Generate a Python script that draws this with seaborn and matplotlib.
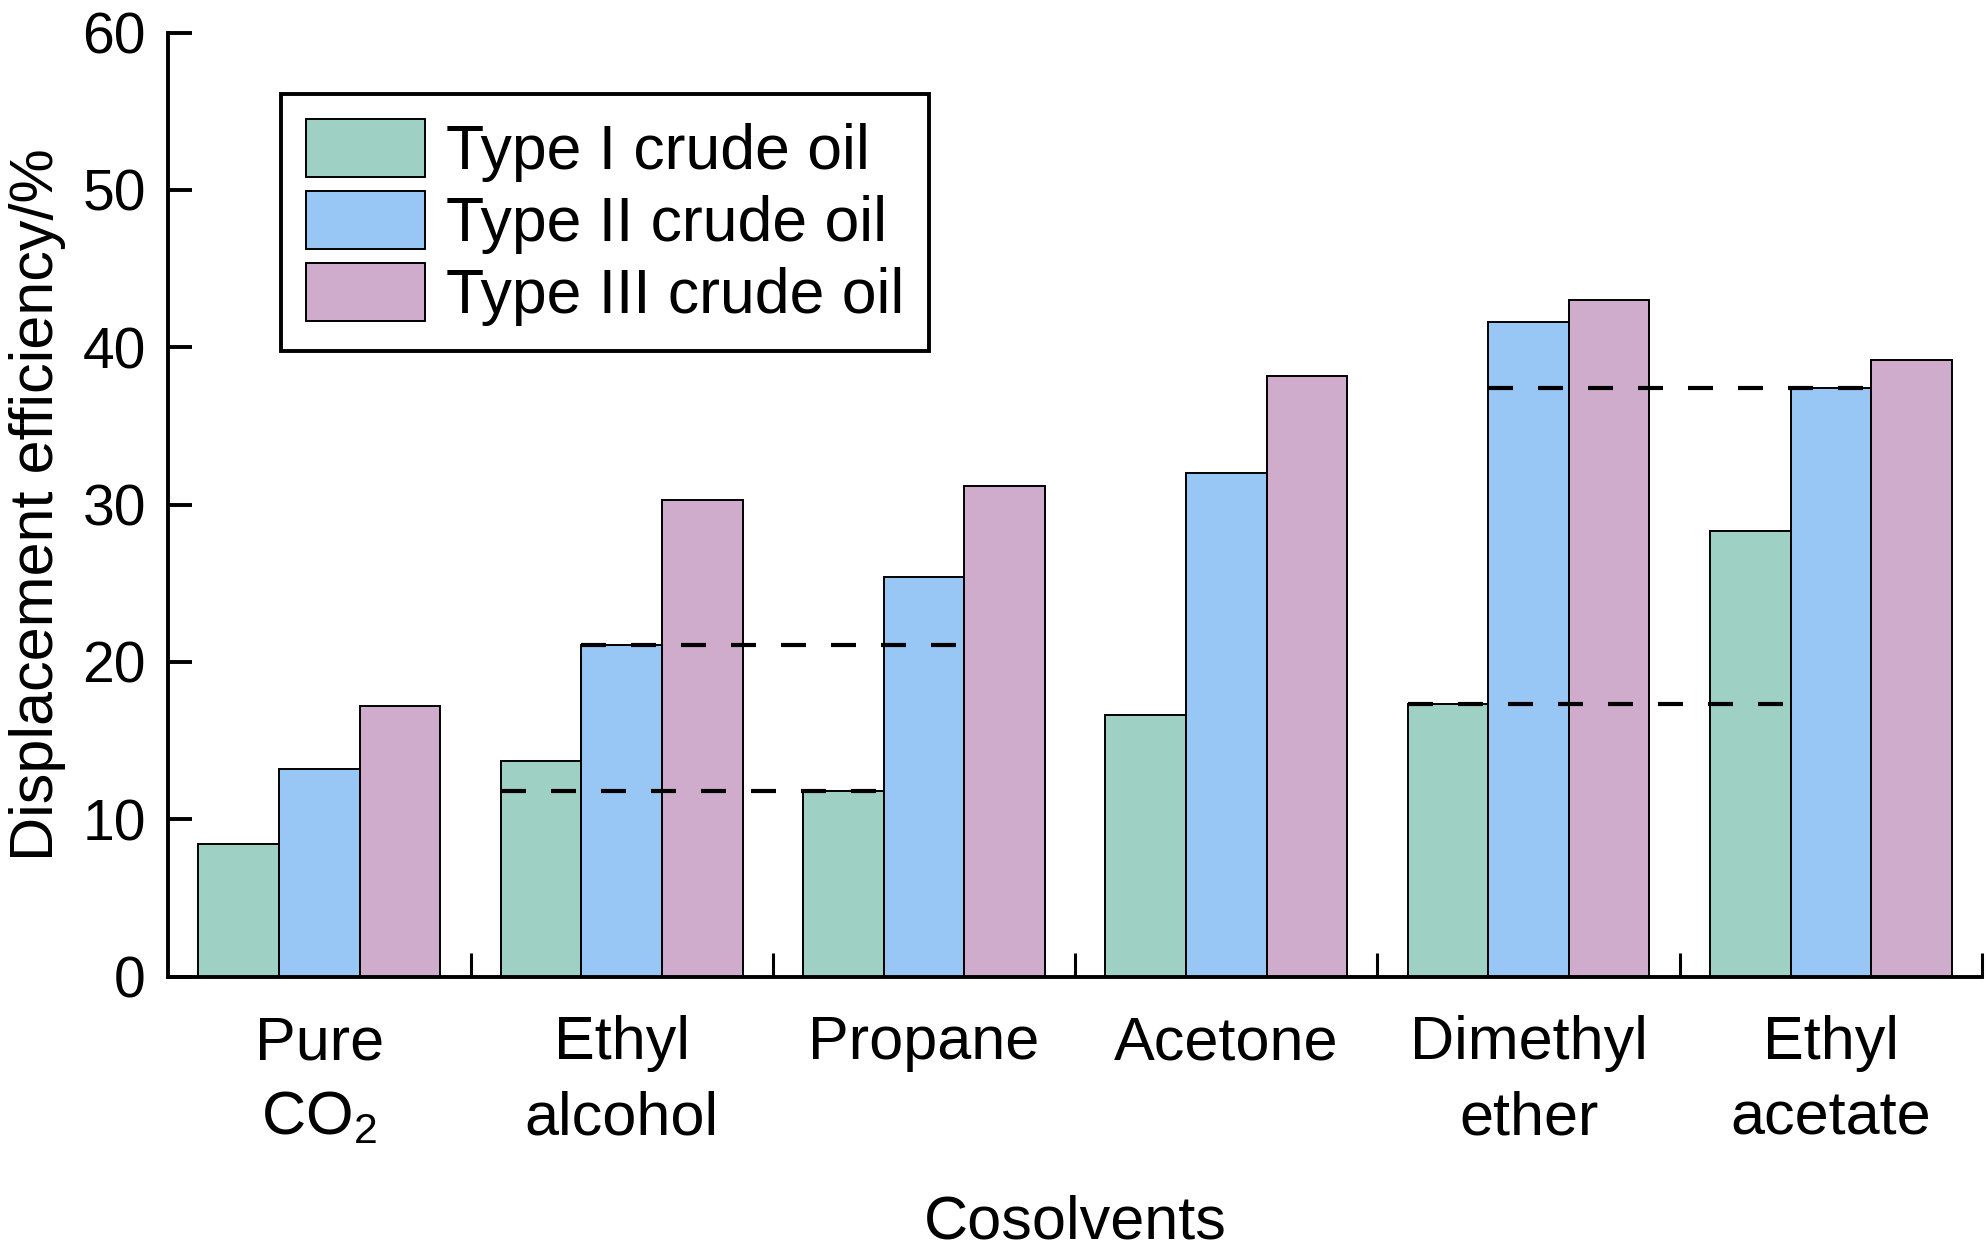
import numpy as np
import pandas as pd
import matplotlib as mpl
mpl.use("Agg")
import matplotlib.pyplot as plt
import seaborn as sns

# Values
cosolvents = ["Pure\nCO$_2$", "Ethyl\nalcohol", "Propane", "Acetone", "Dimethyl\nether", "Ethyl\nacetate"]
oil_types = ["Type I crude oil", "Type II crude oil", "Type III crude oil"]
type1 = [8.4, 13.7, 11.8, 16.6, 17.3, 28.3]
type2 = [13.2, 21.1, 25.4, 32.0, 41.6, 37.4]
type3 = [17.2, 30.3, 31.2, 38.2, 43.0, 39.2]
colors = ["#9ED0C4", "#98C6F5", "#D0ACCC"]

# Dashed comparison lines: (oil type, start cosolvent, end cosolvent, cosolvent giving the level)
ref_lines = [(0, 1, 2, 2), (1, 1, 2, 1), (0, 4, 5, 4), (1, 4, 5, 5)]

df = pd.DataFrame({
    "Cosolvent": cosolvents * 3,
    "Type": [t for t in oil_types for _ in cosolvents],
    "value": type1 + type2 + type3,
})

sns.set_style("ticks")
plt.rcParams["font.family"] = ["Liberation Sans", "DejaVu Sans"]
plt.rcParams["mathtext.fontset"] = "custom"
plt.rcParams["mathtext.rm"] = "Liberation Sans"
plt.rcParams["mathtext.it"] = "Liberation Sans"
plt.rcParams["text.color"] = "black"
plt.rcParams["axes.labelcolor"] = "black"
plt.rcParams["xtick.color"] = "black"
plt.rcParams["ytick.color"] = "black"
plt.rcParams["axes.edgecolor"] = "black"

fig = plt.figure(figsize=(19.86, 12.56), dpi=100)
ax = fig.add_axes([0.0847, 0.2225, 0.9133, 0.7515])

sns.barplot(data=df, x="Cosolvent", y="value", hue="Type", palette=colors,
            saturation=1, edgecolor="black", linewidth=1.4, width=0.8, gap=0, ax=ax,
            errorbar=None)

# Dashed lines between bars
for hue_i, c_start, c_end, c_level in ref_lines :
    bars = ax.containers[hue_i]
    x0 = bars[c_start].get_x()
    x1 = bars[c_end].get_x() + bars[c_end].get_width()
    y = bars[c_level].get_height()
    ax.plot([x0, x1], [y, y], color="black", linewidth=3.0, dashes=(6, 6), zorder=5)

ax.set_xlim(-0.5, 5.5)
ax.set_ylim(0, 60)
ax.set_yticks(range(0, 61, 10))
ax.set_xticks(range(len(cosolvents)))
ax.set_xticklabels(cosolvents, linespacing=1.4)
ax.set_xticks(np.arange(0.5, 6, 1), minor=True)

for s in ["top", "right"] :
    ax.spines[s].set_visible(False)
for s in ["left", "bottom"] :
    ax.spines[s].set_linewidth(2.8)

ax.tick_params(axis="y", direction="in", length=17, width=2.8, labelsize=41, pad=16)
ax.tick_params(axis="x", which="major", length=0, labelsize=44, pad=28)
ax.tick_params(axis="x", which="minor", direction="in", length=17, width=2.2)

ax.set_xlabel("Cosolvents", fontsize=44, labelpad=34)
ax.set_ylabel("Displacement efficiency/%", fontsize=44, labelpad=12)

handles, labels = ax.get_legend_handles_labels()
leg = ax.legend(handles, labels, loc="upper left", bbox_to_anchor=(0.0623, 0.935),
                borderaxespad=0, fontsize=45, frameon=True, fancybox=False,
                edgecolor="black", handlelength=1.9, handleheight=1.05,
                handletextpad=0.33, labelspacing=0.14, borderpad=0.4)
leg.get_frame().set_linewidth(2.8)
leg.get_frame().set_alpha(1)

fig.savefig("out.png", dpi=100)
